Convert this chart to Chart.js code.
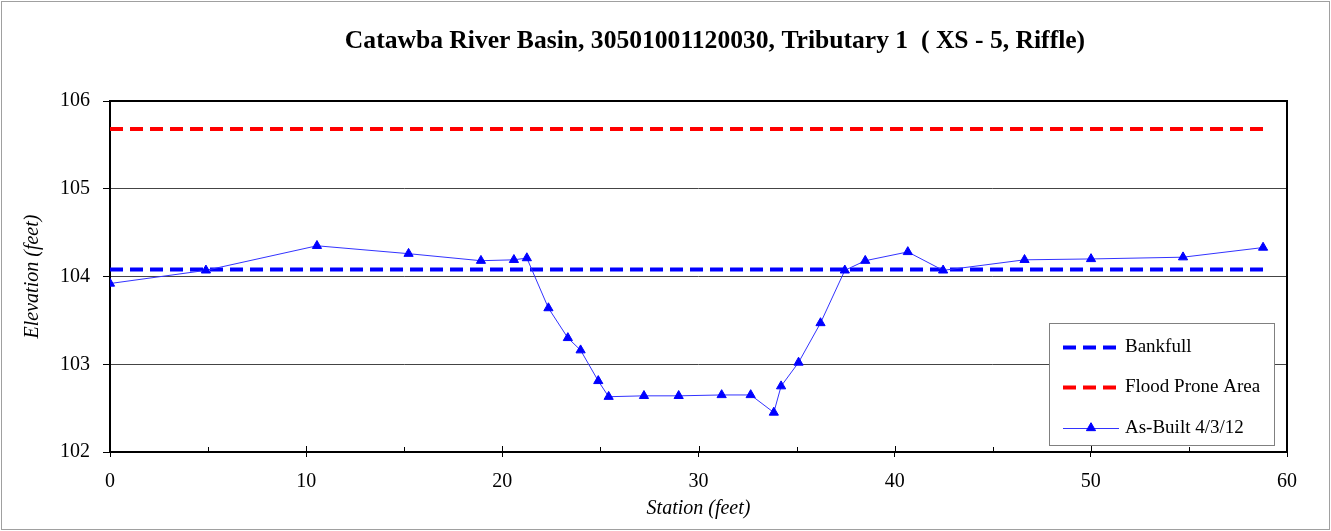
<!DOCTYPE html>
<html>
<head>
<meta charset="utf-8">
<script src="https://cdn.jsdelivr.net/npm/chart.js@4/dist/chart.umd.min.js"></script>
<style>
  html, body { margin: 0; padding: 0; background: #fff; }
  #wrap { width: 1331px; height: 531px; position: relative; }
</style>
</head>
<body>
<div id="wrap"><canvas id="c" width="1331" height="531"></canvas></div>
<script>
// ---- data ----
const chartTitle = 'Catawba River Basin, 30501001120030, Tributary 1  ( XS - 5, Riffle)';
const xAxisTitle = 'Station (feet)';
const yAxisTitle = 'Elevation (feet)';
const seriesNames = ['Bankfull', 'Flood Prone Area', 'As-Built 4/3/12'];

const station = [0, 4.89, 10.55, 15.22, 18.91, 20.59, 21.25, 22.35, 23.34, 23.99, 24.89, 25.42, 27.22, 28.99,
                 31.18, 32.66, 33.84, 34.21, 35.10, 36.22, 37.46, 38.50, 40.67, 42.47, 46.62, 50.01, 54.70, 58.78];
const elevation = [103.92, 104.07, 104.35, 104.26, 104.18, 104.19, 104.21, 103.64, 103.30, 103.16, 102.81, 102.63, 102.64, 102.64,
                   102.65, 102.65, 102.45, 102.75, 103.02, 103.47, 104.07, 104.18, 104.28, 104.07, 104.19, 104.20, 104.22, 104.33];
const bankfullStation = [0, 58.78];
const bankfullElev = [104.08, 104.08];
const floodStation = [0, 58.78];
const floodElev = [105.68, 105.68];

const xTicks = [0, 10, 20, 30, 40, 50, 60];
const xMinorTicks = [5, 15, 25, 35, 45, 55];
const yTicks = [102, 103, 104, 105, 106];

const toPts = (xs, ys) => xs.map((x, i) => ({ x: x, y: ys[i] }));

const FONT = "'Liberation Serif', 'Times New Roman', serif";

const frame = {
  id: 'frame',
  beforeDraw(chart) {
    const ctx = chart.ctx;
    ctx.save();
    ctx.fillStyle = '#fff';
    ctx.fillRect(0, 0, chart.width, chart.height);
    ctx.strokeStyle = '#a0a0a0';
    ctx.lineWidth = 1;
    ctx.strokeRect(1.5, 1.5, chart.width - 3, chart.height - 3);
    // title
    ctx.fillStyle = '#000';
    ctx.font = 'bold 25.6px ' + FONT;
    ctx.textAlign = 'center';
    ctx.textBaseline = 'middle';
    ctx.fillText(chartTitle, 715, 41);
    ctx.restore();
  },
  beforeDatasetsDraw(chart) {
    const ctx = chart.ctx, a = chart.chartArea;
    const xs = chart.scales.x;
    ctx.save();
    ctx.strokeStyle = '#000';
    ctx.lineWidth = 1;
    // inner tick marks on x axis
    ctx.beginPath();
    xTicks.forEach(v => { const p = Math.round(xs.getPixelForValue(v)) + 0.5; ctx.moveTo(p, a.bottom); ctx.lineTo(p, a.bottom - 6); });
    xMinorTicks.forEach(v => { const p = Math.round(xs.getPixelForValue(v)) + 0.5; ctx.moveTo(p, a.bottom); ctx.lineTo(p, a.bottom - 5); });
    ctx.stroke();
    // plot box
    ctx.lineWidth = 2;
    ctx.strokeRect(a.left, a.top, a.right - a.left, a.bottom - a.top);
    ctx.restore();
  },
  afterDraw(chart) {
    const ctx = chart.ctx;
    ctx.save();
    // legend box
    const lx = 1049.5, ly = 323.5, lw = 225, lh = 122;
    ctx.fillStyle = '#fff';
    ctx.fillRect(lx, ly, lw, lh);
    ctx.strokeStyle = '#808080';
    ctx.lineWidth = 1;
    ctx.strokeRect(lx, ly, lw, lh);
    const rows = [347, 387, 428];
    chart.data.datasets.forEach((ds, i) => {
      const y = rows[i];
      ctx.save();
      ctx.strokeStyle = ds.borderColor;
      ctx.lineWidth = ds.borderWidth;
      ctx.setLineDash(ds.borderDash || []);
      ctx.beginPath();
      ctx.moveTo(1063, y + 0.5);
      ctx.lineTo(1119, y + 0.5);
      ctx.stroke();
      ctx.setLineDash([]);
      if (ds.pointRadius > 0) {
        ctx.fillStyle = ds.pointBackgroundColor;
        ctx.strokeStyle = ds.pointBorderColor;
        ctx.lineWidth = 1;
        Chart.helpers.drawPoint(ctx, { pointStyle: ds.pointStyle, radius: ds.pointRadius, borderWidth: 1, rotation: 0 }, 1091, y);
      }
      ctx.restore();
      ctx.fillStyle = '#000';
      ctx.font = '19px ' + FONT;
      ctx.textAlign = 'left';
      ctx.textBaseline = 'middle';
      ctx.fillText(ds.label, 1125, y);
    });
    ctx.restore();
  }
};

new Chart(document.getElementById('c'), {
  type: 'scatter',
  data: {
    datasets: [
      {
        label: seriesNames[0],
        data: toPts(bankfullStation, bankfullElev),
        showLine: true,
        borderColor: '#0000ff',
        backgroundColor: '#0000ff',
        borderWidth: 4,
        borderDash: [13, 7],
        pointRadius: 0,
        order: 2
      },
      {
        label: seriesNames[1],
        data: toPts(floodStation, floodElev),
        showLine: true,
        borderColor: '#ff0000',
        backgroundColor: '#ff0000',
        borderWidth: 4,
        borderDash: [13, 7],
        pointRadius: 0,
        order: 3
      },
      {
        label: seriesNames[2],
        data: toPts(station, elevation),
        showLine: true,
        borderColor: '#3333ff',
        backgroundColor: '#0000ff',
        borderWidth: 1,
        pointStyle: 'triangle',
        pointRadius: 5.3,
        pointBackgroundColor: '#0000ff',
        pointBorderColor: '#0000ff',
        pointBorderWidth: 1,
        order: 1
      }
    ]
  },
  options: {
    responsive: false,
    animation: false,
    layout: { padding: { top: 101, right: 44, bottom: 0, left: 0 } },
    plugins: {
      legend: { display: false },
      title: { display: false },
      tooltip: { enabled: false }
    },
    scales: {
      x: {
        type: 'linear',
        min: 0, max: 60,
        afterFit(s) { s.height = 79; },
        afterBuildTicks(s) { s.ticks = xTicks.map(v => ({ value: v })); },
        ticks: { color: '#000', font: { family: FONT, size: 20 }, padding: 13, maxRotation: 0 },
        grid: { drawOnChartArea: false, drawTicks: true, tickLength: 5, tickColor: '#000', tickWidth: 1 },
        border: { display: false },
        title: { display: true, text: xAxisTitle, color: '#000', font: { family: FONT, size: 20, style: 'italic' }, padding: { top: 0, bottom: 10 } }
      },
      y: {
        type: 'linear',
        min: 102, max: 106,
        afterFit(s) { s.width = 110; },
        afterBuildTicks(s) { s.ticks = yTicks.map(v => ({ value: v })); },
        ticks: { color: '#000', font: { family: FONT, size: 20 }, padding: 13 },
        grid: { color: '#444', lineWidth: 1, drawTicks: true, tickLength: 7, tickColor: '#000', tickWidth: 1 },
        border: { display: false },
        title: { display: true, text: yAxisTitle, color: '#000', font: { family: FONT, size: 20, style: 'italic' }, padding: { top: 21, bottom: 0 } }
      }
    }
  },
  plugins: [frame]
});
</script>
</body>
</html>
